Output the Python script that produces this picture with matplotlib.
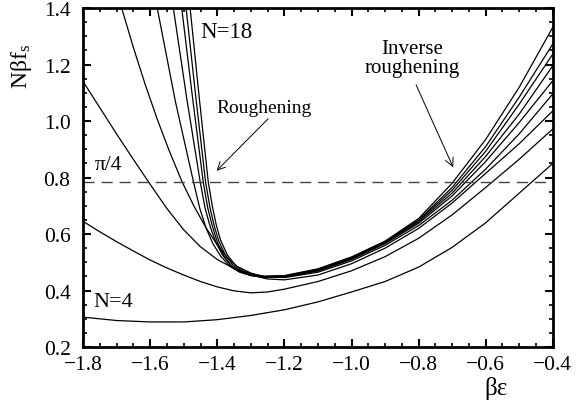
import numpy as np
import matplotlib
matplotlib.use("Agg")
import matplotlib.pyplot as plt
from matplotlib.ticker import MultipleLocator

plt.rcParams['font.family'] = ['Liberation Serif', 'DejaVu Serif']
plt.rcParams['mathtext.fontset'] = 'custom'
plt.rcParams['mathtext.rm'] = 'Liberation Serif'
plt.rcParams['mathtext.it'] = 'Liberation Serif:italic'

# right-hand branch, shared x grid
x_right = [-1.1, -1.0, -0.9, -0.8, -0.7, -0.6, -0.5, -0.4]

# N=4
x_n4 = [-1.8, -1.7, -1.6, -1.5, -1.4, -1.3, -1.2, -1.1, -1.0, -0.9, -0.8, -0.7, -0.6, -0.5, -0.4]
y_n4 = [0.306, 0.294, 0.289, 0.289, 0.297, 0.312, 0.332, 0.36, 0.395, 0.432, 0.483, 0.553, 0.64, 0.745, 0.85]

# N=6
x_n6 = [-1.8, -1.75, -1.7, -1.65, -1.6, -1.55, -1.5, -1.45, -1.4, -1.35, -1.3, -1.25, -1.2,
        -1.1, -1.0, -0.9, -0.8, -0.7, -0.6, -0.5, -0.4]
y_n6 = [0.645, 0.608, 0.573, 0.54, 0.508, 0.48, 0.455, 0.432, 0.413, 0.399, 0.392, 0.395, 0.405,
        0.432, 0.47, 0.52, 0.585, 0.668, 0.765, 0.865, 0.972]

# N=8
x_n8 = [-1.8, -1.75, -1.7, -1.65, -1.6, -1.55, -1.5, -1.45, -1.4, -1.35, -1.3, -1.25, -1.2,
        -1.1, -1.0, -0.9, -0.8, -0.7, -0.6, -0.5, -0.4]
y_n8 = [1.14, 1.047, 0.954, 0.864, 0.776, 0.69, 0.615, 0.555, 0.51, 0.478, 0.455, 0.441, 0.438,
        0.455, 0.495, 0.55, 0.62, 0.71, 0.815, 0.92, 1.036]

# N=10 ... N=20: steep left branch down to the minimum, then x_right
x_n10 = [-1.685, -1.65, -1.615, -1.58, -1.545, -1.505, -1.47, -1.435, -1.40, -1.37, -1.34, -1.30, -1.26, -1.2]
y_n10 = [1.40, 1.26, 1.13, 1.01, 0.90, 0.785, 0.70, 0.625, 0.562, 0.517, 0.485, 0.462, 0.449, 0.446]
r_n10 = [0.465, 0.505, 0.56, 0.63, 0.72, 0.83, 0.955, 1.096]

x_n12 = [-1.579, -1.525, -1.471, -1.452, -1.433, -1.413, -1.39, -1.365, -1.335, -1.30, -1.26, -1.2]
y_n12 = [1.40, 1.07, 0.785, 0.69, 0.62, 0.566, 0.522, 0.489, 0.466, 0.453, 0.447, 0.448]
r_n12 = [0.469, 0.51, 0.566, 0.638, 0.735, 0.857, 0.995, 1.143]

x_n14 = [-1.531, -1.491, -1.451, -1.436, -1.42, -1.404, -1.385, -1.36, -1.335, -1.30, -1.26, -1.2]
y_n14 = [1.40, 1.08, 0.785, 0.69, 0.622, 0.57, 0.527, 0.49, 0.468, 0.454, 0.448, 0.45]
r_n14 = [0.471, 0.513, 0.569, 0.643, 0.745, 0.875, 1.025, 1.196]

x_n16 = [-1.506, -1.474, -1.442, -1.428, -1.414, -1.40, -1.38, -1.355, -1.33, -1.30, -1.26, -1.2]
y_n16 = [1.40, 1.085, 0.785, 0.69, 0.625, 0.572, 0.522, 0.484, 0.465, 0.454, 0.449, 0.451]
r_n16 = [0.473, 0.515, 0.571, 0.647, 0.755, 0.893, 1.06, 1.237]

x_n18 = [-1.493, -1.464, -1.435, -1.422, -1.409, -1.395, -1.375, -1.35, -1.325, -1.30, -1.26, -1.2]
y_n18 = [1.40, 1.085, 0.785, 0.695, 0.628, 0.574, 0.523, 0.486, 0.467, 0.456, 0.45, 0.452]
r_n18 = [0.475, 0.517, 0.573, 0.65, 0.765, 0.91, 1.085, 1.273]

x_n20 = [-1.481, -1.454, -1.427, -1.415, -1.403, -1.39, -1.37, -1.345, -1.32, -1.29, -1.26, -1.2]
y_n20 = [1.40, 1.085, 0.785, 0.70, 0.632, 0.578, 0.526, 0.488, 0.468, 0.457, 0.451, 0.453]
r_n20 = [0.477, 0.519, 0.575, 0.655, 0.78, 0.935, 1.12, 1.332]

fig = plt.figure(figsize=(5.85, 4.10), dpi=100)
ax = fig.add_axes([0.142, 0.151, 0.803, 0.827])

lw = 0.9
ax.plot(x_n4, y_n4, color='black', lw=lw)
ax.plot(x_n6, y_n6, color='black', lw=lw)
ax.plot(x_n8, y_n8, color='black', lw=lw)
for xs, ys, rs in [(x_n10, y_n10, r_n10), (x_n12, y_n12, r_n12), (x_n14, y_n14, r_n14),
                   (x_n16, y_n16, r_n16), (x_n18, y_n18, r_n18), (x_n20, y_n20, r_n20)]:
    ax.plot(xs + x_right, ys + rs, color='black', lw=lw)

# pi/4 reference line
ax.axhline(np.pi / 4, color='#444444', lw=1.0, ls=(0, (8, 5)))

ax.set_xlim(-1.8, -0.4)
ax.set_ylim(0.2, 1.4)
ax.xaxis.set_major_locator(MultipleLocator(0.2))
ax.xaxis.set_minor_locator(MultipleLocator(0.05))
ax.yaxis.set_major_locator(MultipleLocator(0.2))
ax.yaxis.set_minor_locator(MultipleLocator(0.05))
ax.xaxis.set_major_formatter(plt.FuncFormatter(lambda v, p: f"{v:.1f}".replace('-', '\u2212')))
ax.yaxis.set_major_formatter(plt.FuncFormatter(lambda v, p: f"{v:.1f}"))
ax.tick_params(which='both', direction='in', top=True, right=True, labelsize=15.5, colors='black')
ax.tick_params(which='major', length=6, width=1.5)
ax.tick_params(which='minor', length=3, width=1.2)
ax.tick_params(axis='x', which='major', pad=6)
ax.tick_params(axis='y', which='major', pad=9)
for s in ax.spines.values():
    s.set_linewidth(2)

ax.set_ylabel('N\u03b2f$_\\mathrm{s}$', fontsize=17)
ax.yaxis.set_label_coords(-0.105, 0.83)
ax.set_xlabel('\u03b2\u03b5', fontsize=18)
ax.xaxis.set_label_coords(0.88, -0.085)

ax.text(-1.452, 1.317, 'N=18', fontsize=16.5, va='center', ha='left')
ax.text(-1.77, 0.361, 'N=4', fontsize=16, va='center', ha='left')
ax.text(-1.764, 0.846, '\u03c0/4', fontsize=15.5, va='center', ha='left')

ax.annotate('Roughening', xy=(-1.402, 0.824), xytext=(-1.402, 1.048),
            fontsize=14, va='center', ha='left',
            arrowprops=dict(arrowstyle='->', color='black', lw=0.7,
                            shrinkA=0, shrinkB=0, relpos=(0.57, 0.0)))
ax.annotate('Inverse\nroughening', xy=(-0.697, 0.836), xytext=(-0.818, 1.223),
            fontsize=15, va='center', ha='center', linespacing=1.0,
            arrowprops=dict(arrowstyle='->', color='black', lw=0.7,
                            shrinkA=4, shrinkB=0, relpos=(0.5, 0.0)))

fig.savefig('out.png', dpi=100)
